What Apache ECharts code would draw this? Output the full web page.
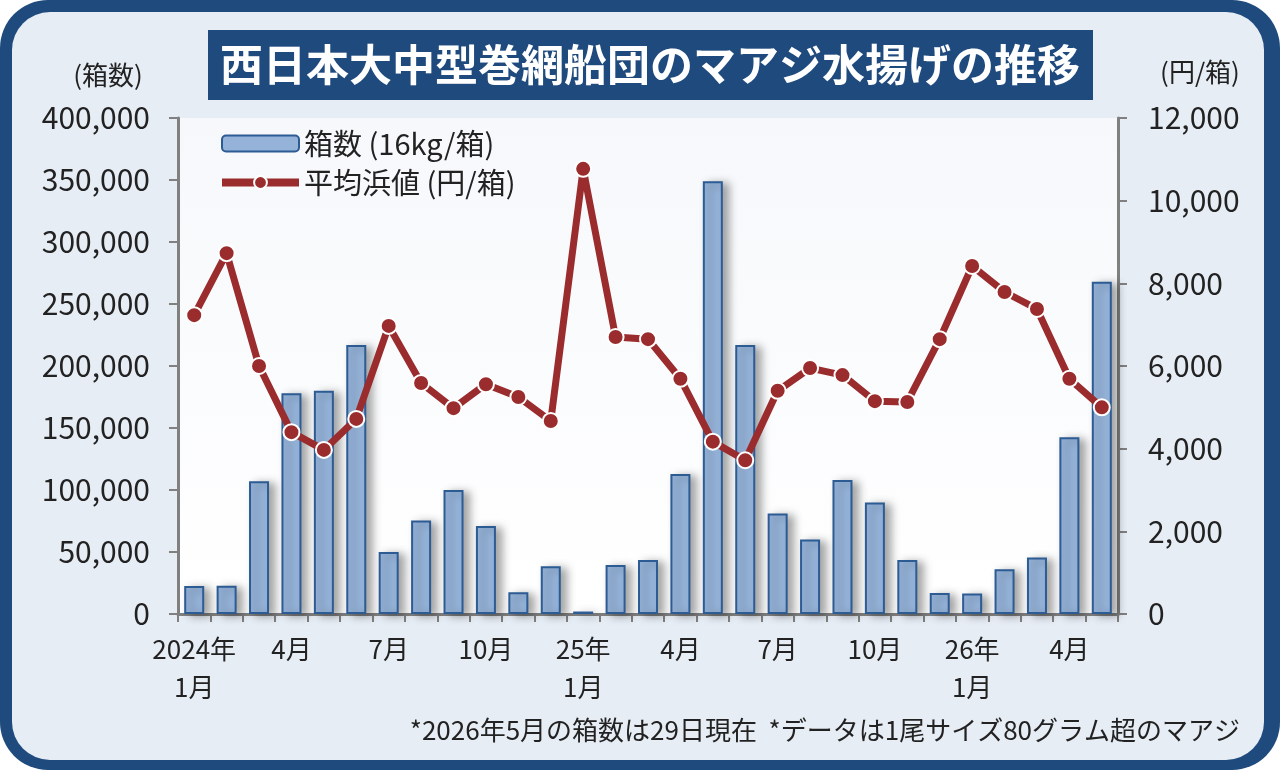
<!DOCTYPE html>
<html>
<head>
<meta charset="utf-8">
<script src="https://cdn.jsdelivr.net/npm/echarts@6/dist/echarts.min.js"></script>
<style>
  html, body { margin: 0; padding: 0; background: #ffffff; }
  #chart { width: 1280px; height: 770px; }
</style>
</head>
<body>
<div id="chart"></div>
<script>
// 月（2024年1月〜2026年5月）
const months = [
  '2024年\n1月', '2月', '3月', '4月', '5月', '6月', '7月', '8月', '9月', '10月', '11月', '12月',
  '25年\n1月', '2月', '3月', '4月', '5月', '6月', '7月', '8月', '9月', '10月', '11月', '12月',
  '26年\n1月', '2月', '3月', '4月', '5月'
]
// 箱数（16kg/箱）
const boxes = [
  22500, 22800, 107000, 178000, 180000, 217000, 50000, 75500, 100000, 71000, 17500, 38500,
  2000, 39500, 43500, 113000, 349000, 217000, 81000, 60000, 108000, 90000, 43500, 17000,
  16500, 36000, 45500, 142500, 268000
]
// 平均浜値（円/箱）
const prices = [
  7230, 8730, 6000, 4400, 3970, 4720, 6970, 5590, 4980, 5560, 5250, 4670,
  10770, 6700, 6650, 5690, 4170, 3720, 5400, 5950, 5780, 5150, 5130, 6650,
  8420, 7790, 7380, 5690, 5000
]
const leftTicks = [0, 400000, 50000]
const rightTicks = [0, 12000, 2000]

const FONT = 'Noto Sans CJK JP'
const navy = '#1f4a7e'
const red = '#9b2c2d'
const chart = echarts.init(document.getElementById('chart'))

const option = {
  backgroundColor: '#ffffff',
  textStyle: { fontFamily: FONT },
  graphic: [
    { type: 'rect', z: -10, shape: { x: 0, y: 0, width: 1280, height: 770, r: 48 }, style: { fill: navy } },
    { type: 'rect', z: -9, shape: { x: 12, y: 12, width: 1252, height: 748, r: 38 }, style: { fill: '#e7edf5' } },
    { type: 'rect', z: -8, shape: { x: 208, y: 30, width: 885, height: 70 }, style: { fill: navy } },
    {
      type: 'text', z: 5, x: 650, y: 65,
      style: { text: '西日本大中型巻網船団のマアジ水揚げの推移', fill: '#ffffff', font: 'bold 43px "Noto Sans CJK JP"', align: 'center', verticalAlign: 'middle' }
    },
    { type: 'text', x: 108, y: 75, style: { text: '(箱数)', fill: '#222', font: '26px "Noto Sans CJK JP"', align: 'center', verticalAlign: 'middle' } },
    { type: 'text', x: 1200, y: 72, style: { text: '(円/箱)', fill: '#222', font: '26px "Noto Sans CJK JP"', align: 'center', verticalAlign: 'middle' } },
    {
      type: 'text', x: 1240, y: 730,
      style: { text: '*2026年5月の箱数は29日現在  *データは1尾サイズ80グラム超のマアジ', fill: '#222', font: '26px "Noto Sans CJK JP"', align: 'right', verticalAlign: 'middle' }
    }
  ],
  legend: {
    left: 213, top: 124, orient: 'vertical', itemGap: 10,
    itemWidth: 77, itemHeight: 16,
    textStyle: { fontSize: 29, color: '#222', fontFamily: FONT },
    data: [
      { name: '箱数 (16kg/箱)' },
      { name: '平均浜値 (円/箱)', lineStyle: { width: 8, color: red } }
    ]
  },
  grid: {
    left: 178, right: 162, top: 118, bottom: 156,
    show: true, borderWidth: 0,
    backgroundColor: new echarts.graphic.LinearGradient(0, 0, 0, 1, [
      { offset: 0, color: '#f6f8fb' }, { offset: 1, color: '#ffffff' }
    ])
  },
  xAxis: {
    type: 'category',
    data: months,
    axisLine: { lineStyle: { color: '#808080', width: 3 } },
    axisTick: { show: true, interval: 0, length: 8, lineStyle: { color: '#808080', width: 2 } },
    axisLabel: {
      interval: 2, margin: 16, fontSize: 26, lineHeight: 38, color: '#222', fontFamily: FONT
    }
  },
  yAxis: [
    {
      type: 'value', min: leftTicks[0], max: leftTicks[1], interval: leftTicks[2],
      axisLine: { show: true, lineStyle: { color: '#808080', width: 3 } },
      axisTick: { show: true, length: 9, lineStyle: { color: '#808080', width: 2 } },
      splitLine: { show: false },
      axisLabel: {
        margin: 28, fontSize: 30, color: '#222', fontFamily: FONT,
        formatter: v => v.toLocaleString('en-US')
      }
    },
    {
      type: 'value', min: rightTicks[0], max: rightTicks[1], interval: rightTicks[2],
      axisLine: { show: true, lineStyle: { color: '#808080', width: 3 } },
      axisTick: { show: true, length: 9, lineStyle: { color: '#808080', width: 2 } },
      splitLine: { show: false },
      axisLabel: {
        margin: 30, fontSize: 30, color: '#222', fontFamily: FONT,
        formatter: v => v.toLocaleString('en-US')
      }
    }
  ],
  series: [
    {
      name: '箱数 (16kg/箱)',
      type: 'bar',
      data: boxes,
      barWidth: 20,
      itemStyle: {
        color: '#95b3d9', borderColor: '#2d5b94', borderWidth: 2,
        shadowColor: 'rgba(0,0,0,0.35)', shadowBlur: 8, shadowOffsetX: 6, shadowOffsetY: 2
      }
    },
    {
      name: '平均浜値 (円/箱)',
      type: 'line',
      yAxisIndex: 1,
      data: prices,
      symbol: 'circle',
      symbolSize: 16,
      lineStyle: { color: red, width: 7 },
      itemStyle: { color: red, borderColor: '#ffffff', borderWidth: 2 },
      z: 3
    }
  ]
}
chart.setOption(option)
</script>
</body>
</html>
